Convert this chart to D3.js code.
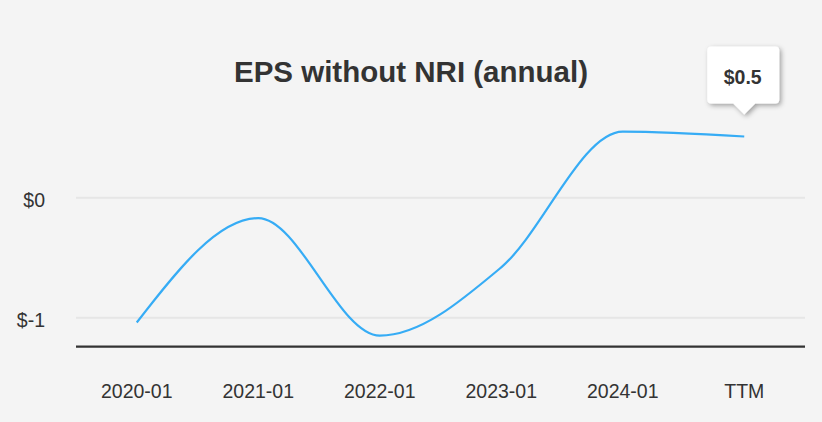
<!DOCTYPE html>
<html>
<head>
<meta charset="utf-8">
<script src="https://cdn.jsdelivr.net/npm/d3@7"></script>
<style>
  html, body { margin: 0; padding: 0; background: #f4f4f4; }
  svg { display: block; font-family: "Liberation Sans", Arial, sans-serif; }
</style>
</head>
<body>
<svg id="chart" width="822" height="422"></svg>
<script>
const categories = ["2020-01", "2021-01", "2022-01", "2023-01", "2024-01", "TTM"];
const epsValues = [-1.04, -0.17, -1.15, -0.58, 0.55, 0.51];
const yTickValues = [-1, 0];
const yTickLabels = ["$-1", "$0"];
const titleText = "EPS without NRI (annual)";
const tooltipText = "$0.5";

const svg = d3.select("#chart");
svg.append("rect").attr("width", 822).attr("height", 422).attr("fill", "#f4f4f4");

const x = d3.scaleBand().domain(categories).range([76, 805]);
const y = d3.scaleLinear().domain([-1.25, 1]).range([347.7, 77.7]);
const cx = d => x(d) + x.bandwidth() / 2;

// title
svg.append("text")
  .attr("x", 411).attr("y", 82)
  .attr("text-anchor", "middle")
  .attr("font-size", 29.5).attr("font-weight", "bold")
  .attr("fill", "#333333")
  .text(titleText);

// gridlines
svg.append("g").selectAll("line").data(yTickValues).join("line")
  .attr("x1", 76).attr("x2", 805)
  .attr("y1", d => y(d)).attr("y2", d => y(d))
  .attr("stroke", "#e6e6e6").attr("stroke-width", 2);

// y labels
svg.append("g").selectAll("text").data(yTickValues).join("text")
  .attr("x", 45).attr("y", d => y(d) + 9)
  .attr("text-anchor", "end")
  .attr("font-size", 19.5).attr("fill", "#333333")
  .text((d, i) => yTickLabels[i]);

// baseline
svg.append("line")
  .attr("x1", 76).attr("x2", 805)
  .attr("y1", y(-1.25) - 1).attr("y2", y(-1.25) - 1)
  .attr("stroke", "#333333").attr("stroke-width", 2.2);

// x axis labels
const xAxis = d3.axisBottom(x).tickSize(0).tickPadding(0);
const gx = svg.append("g").attr("transform", "translate(0,384)").call(xAxis);
gx.select(".domain").remove();
gx.selectAll("text")
  .attr("font-size", 19.5).attr("fill", "#333333")
  .attr("font-family", "Liberation Sans, Arial, sans-serif")
  .attr("dy", "0.71em");

// line
const line = d3.line()
  .x((d, i) => cx(categories[i]))
  .y(d => y(d))
  .curve(d3.curveMonotoneX);
svg.append("path")
  .datum(epsValues)
  .attr("d", line)
  .attr("fill", "none")
  .attr("stroke", "#36acf5")
  .attr("stroke-width", 2.2);

// tooltip
const tx = cx(categories[categories.length - 1]);
const ty = y(epsValues[epsValues.length - 1]) - 22;
const bw = 72, bh = 57, bl = tx - 37, bt = ty - 68;
const defs = svg.append("defs");
const f = defs.append("filter").attr("id", "shadow").attr("x", "-30%").attr("y", "-30%").attr("width", "160%").attr("height", "160%");
f.append("feDropShadow").attr("dx", 2).attr("dy", 2).attr("stdDeviation", 2.5).attr("flood-color", "#000").attr("flood-opacity", 0.35);
const r = 4;
const tipPath = `M${bl + r},${bt} H${bl + bw - r} Q${bl + bw},${bt} ${bl + bw},${bt + r} V${bt + bh - r} Q${bl + bw},${bt + bh} ${bl + bw - r},${bt + bh}
  H${tx + 11} L${tx},${ty} L${tx - 11},${bt + bh} H${bl + r} Q${bl},${bt + bh} ${bl},${bt + bh - r} V${bt + r} Q${bl},${bt} ${bl + r},${bt} Z`;
svg.append("path").attr("d", tipPath).attr("fill", "#ffffff").attr("filter", "url(#shadow)");
svg.append("text")
  .attr("x", bl + bw / 2 - 0.5).attr("y", bt + 37)
  .attr("text-anchor", "middle")
  .attr("font-size", 19.5).attr("font-weight", "bold").attr("fill", "#333333")
  .text(tooltipText);
</script>
</body>
</html>
